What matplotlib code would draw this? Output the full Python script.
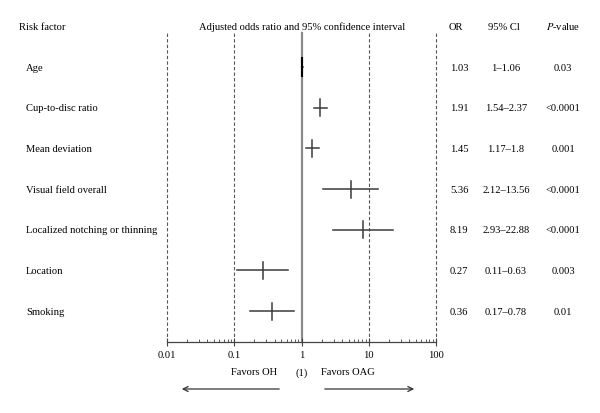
# ---------- IMPORT LIBRARIES ----------
import matplotlib
matplotlib.use("Agg")
import matplotlib.pyplot as plt
import matplotlib.transforms as mtransforms
from matplotlib.patches import FancyArrowPatch
from matplotlib.ticker import LogLocator, NullFormatter, FixedLocator

plt.rcParams['font.family'] = ['Liberation Serif', 'DejaVu Serif']


# ---------- DATA ----------
factors = ["Age", "Cup-to-disc ratio", "Mean deviation", "Visual field overall",
           "Localized notching or thinning", "Location", "Smoking"]
odds = [1.03, 1.91, 1.45, 5.36, 8.19, 0.27, 0.36]
ci_low = [1.0, 1.54, 1.17, 2.12, 2.93, 0.11, 0.17]
ci_high = [1.06, 2.37, 1.8, 13.56, 22.88, 0.63, 0.78]
or_labels = ["1.03", "1.91", "1.45", "5.36", "8.19", "0.27", "0.36"]
ci_labels = ["1\u20131.06", "1.54\u20132.37", "1.17\u20131.8", "2.12\u201313.56",
             "2.93\u201322.88", "0.11\u20130.63", "0.17\u20130.78"]
p_labels = ["0.03", "<0.0001", "0.001", "<0.0001", "<0.0001", "0.003", "0.01"]
tick_vals = [0.01, 0.1, 1, 10, 100]
tick_labels = ["0.01", "0.1", "1", "10", "100"]


# ---------- FIGURE ----------
W, H = 600, 414
fig = plt.figure(figsize=(W / 100, H / 100), dpi=100)
ax = fig.add_axes([167 / W, (H - 343) / H, 269 / W, (343 - 34) / H])

rows = list(range(len(factors)))
FS = 7.6
dark = "#3a3a3a"

# reference lines
for v in tick_vals:
    if v == 1:
        ax.axvline(v, color="#8a8a8a", lw=1.6, zorder=1, clip_on=False)
    else:
        ax.axvline(v, color="#555555", lw=0.8, ls=(0, (3, 2)), zorder=1, clip_on=False)

# odds ratio crosses
for i in rows:
    ax.plot([ci_low[i], ci_high[i]], [i, i], color=dark, lw=1.1, zorder=3)
    lw = 1.5 if i == 0 else 1.1
    col = "black" if i == 0 else dark
    ax.plot([odds[i], odds[i]], [i - 0.21, i + 0.21], color=col, lw=lw, zorder=3)

ax.set_xscale("log")
ax.set_xlim(0.01, 100)
ax.set_ylim(6.76, -0.836)

for s in ["top", "left", "right"]:
    ax.spines[s].set_visible(False)
ax.spines["bottom"].set_color("#444444")
ax.spines["bottom"].set_linewidth(0.9)
ax.set_yticks([])
ax.xaxis.set_major_locator(FixedLocator(tick_vals))
ax.set_xticklabels(tick_labels, fontsize=FS)
ax.xaxis.set_minor_locator(LogLocator(base=10, subs=range(2, 10)))
ax.xaxis.set_minor_formatter(NullFormatter())
ax.tick_params(axis="x", which="major", direction="inout", length=6, width=0.8,
               color="#444444", pad=3)
ax.tick_params(axis="x", which="minor", direction="in", length=2.5, width=0.6,
               color="#444444")


# ---------- TEXT COLUMNS ----------
trans = mtransforms.blended_transform_factory(fig.transFigure, ax.transData)

def fx(px):
    return px / W

for i in rows:
    ax.text(fx(26), i, factors[i], transform=trans, fontsize=FS, va="center", ha="left")
    ax.text(fx(450), i, or_labels[i], transform=trans, fontsize=FS, va="center", ha="left")
    ax.text(fx(506), i, ci_labels[i], transform=trans, fontsize=FS, va="center", ha="center")
    ax.text(fx(563), i, p_labels[i], transform=trans, fontsize=FS, va="center", ha="center")

head_y = 1 - 27 / H
fig.text(fx(19), head_y, "Risk factor", fontsize=FS, va="center", ha="left")
fig.text(fx(302), head_y, "Adjusted odds ratio and 95% confidence interval",
         fontsize=FS, va="center", ha="center")
fig.text(fx(456), head_y, "OR", fontsize=FS, va="center", ha="center")
fig.text(fx(504), head_y, "95% Cl", fontsize=FS, va="center", ha="center")
fig.text(fx(563), head_y, "$P$-value", fontsize=FS, va="center", ha="center",
         math_fontfamily="stix")

foot_y = 1 - 373 / H
fig.text(fx(254), foot_y, "Favors OH", fontsize=FS, va="center", ha="center")
fig.text(fx(302), foot_y, "(1)", fontsize=FS, va="center", ha="center")
fig.text(fx(348), foot_y, "Favors OAG", fontsize=FS, va="center", ha="center")

# direction arrows
arrow_y = 1 - 390 / H
for start, end in [(282, 179), (322, 417)]:
    fig.add_artist(FancyArrowPatch(
        (fx(start), arrow_y), (fx(end), arrow_y), transform=fig.transFigure,
        arrowstyle="->", mutation_scale=9, color="#333333", lw=0.9))

fig.savefig("out.png", dpi=100, facecolor="white")
